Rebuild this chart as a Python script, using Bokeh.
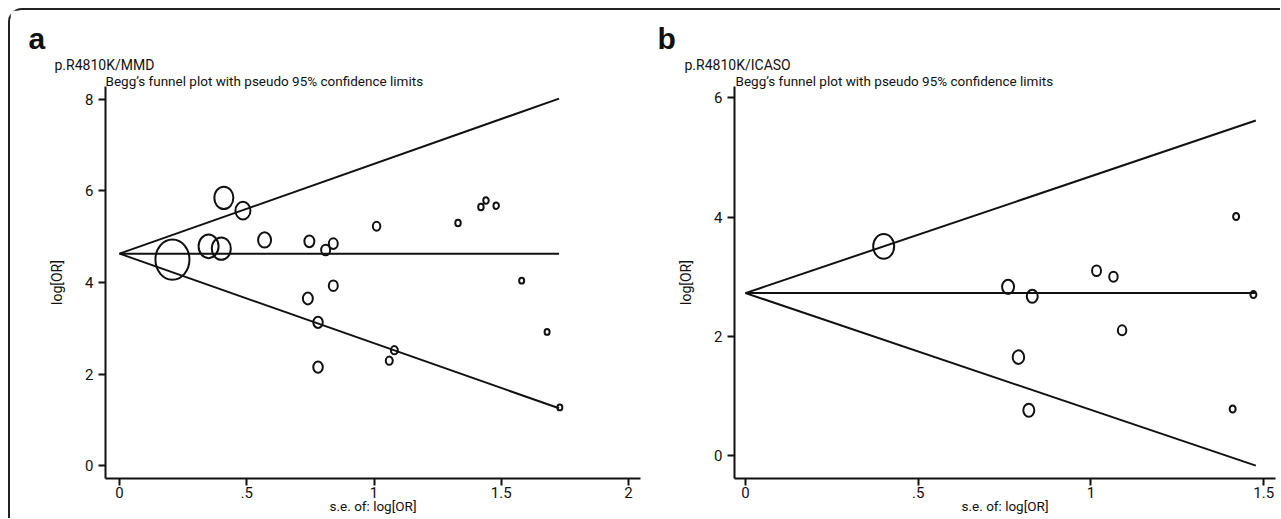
from bokeh.plotting import figure
from bokeh.models import Range1d, FixedTicker, Title
from bokeh.layouts import row
from bokeh.embed import file_html
from bokeh.resources import INLINE

# ---------------- data: panel a (p.R4810K/MMD) ----------------
a_se = [0.208, 0.35, 0.40, 0.41, 0.485, 0.57, 0.74, 0.746, 0.78, 0.78, 0.81, 0.84,
        0.84, 1.01, 1.06, 1.08, 1.33, 1.42, 1.44, 1.48, 1.58, 1.68, 1.73]
a_logor = [4.50, 4.79, 4.74, 5.85, 5.57, 4.93, 3.65, 4.90, 3.13, 2.15, 4.71, 4.85,
           3.93, 5.23, 2.29, 2.52, 5.30, 5.65, 5.79, 5.68, 4.04, 2.92, 1.27]
a_weight = [34, 20, 19, 19, 15, 13, 10, 10, 9.5, 9.5, 9, 9,
            9, 7.5, 7, 7, 5.5, 5.5, 5.5, 5.5, 5, 5, 5]
a_funnel_se = [0, 1.727]
a_upper = [4.63, 8.02]
a_center = [4.63, 4.63]
a_lower = [4.63, 1.25]

# ---------------- data: panel b (p.R4810K/ICASO) ----------------
b_se = [0.40, 0.76, 0.79, 0.82, 0.83, 1.016, 1.065, 1.09, 1.41, 1.42, 1.47]
b_logor = [3.51, 2.83, 1.65, 0.76, 2.67, 3.10, 3.00, 2.10, 0.78, 4.01, 2.70]
b_weight = [21, 12, 11.5, 11, 11, 9, 8.5, 8.5, 6, 6, 6]
b_funnel_se = [0, 1.477]
b_upper = [2.725, 5.62]
b_center = [2.725, 2.725]
b_lower = [2.725, -0.17]

x_ticks_a = [0, 0.5, 1, 1.5, 2]
x_ticks_b = [0, 0.5, 1, 1.5]
x_tick_labels = {0: "0", 0.5: ".5", 1: "1", 1.5: "1.5", 2: "2"}
y_ticks_a = [0, 2, 4, 6, 8]
y_ticks_b = [0, 2, 4, 6]

FONT = "Roboto"
BOLD = "Liberation Sans"
INK = "#111111"


def make_panel(width, mbl, mbr, xr, yr, xticks, yticks, se, lor, wt,
               fse, up, ce, lo, letter, subtitle, offsets):
    p = figure(width=width, height=508, output_backend="svg", toolbar_location=None,
               x_range=Range1d(*xr), y_range=Range1d(*yr),
               min_border_left=mbl, min_border_right=mbr,
               min_border_top=76, min_border_bottom=40)
    p.xgrid.visible = False
    p.ygrid.visible = False
    p.outline_line_color = None
    p.background_fill_color = "white"
    p.border_fill_color = "white"

    for ax in (p.xaxis[0], p.yaxis[0]):
        ax.axis_line_width = 2
        ax.axis_line_color = INK
        ax.major_tick_line_width = 2
        ax.major_tick_line_color = INK
        ax.major_tick_out = 7
        ax.major_tick_in = 0
        ax.minor_tick_line_color = None
        ax.major_label_text_font = FONT
        ax.major_label_text_font_size = "15px"
        ax.major_label_text_color = INK
        ax.axis_label_text_font = FONT
        ax.axis_label_text_font_style = "normal"
        ax.axis_label_text_color = INK
    p.xaxis.ticker = FixedTicker(ticks=xticks)
    p.xaxis.major_label_overrides = {k: v for k, v in x_tick_labels.items() if k in xticks}
    p.xaxis.major_label_standoff = 1
    p.xaxis.axis_label = "s.e. of: log[OR]"
    p.xaxis.axis_label_text_font_size = "13.5px"
    p.xaxis.axis_label_standoff = -3
    p.yaxis.ticker = FixedTicker(ticks=yticks)
    p.yaxis.major_label_overrides = {t: str(t) for t in yticks}
    p.yaxis.major_label_standoff = 5
    p.yaxis.axis_label = "log[OR]"
    p.yaxis.axis_label_text_font_size = "14px"
    p.yaxis.axis_label_standoff = 17

    # funnel (pseudo 95% confidence limits and pooled estimate)
    for ys in (up, ce, lo):
        p.line(fse, ys, line_color=INK, line_width=2)

    # studies
    p.ellipse(x=se, y=lor, width=wt, height=[w * 1.18 for w in wt],
              width_units="screen", height_units="screen",
              fill_color=None, line_color=INK, line_width=2)

    o_letter, o_sub, o_begg = offsets
    # titles stacked upward from the frame
    p.add_layout(Title(text="Begg\u2019s funnel plot with pseudo 95% confidence limits",
                       align="left", offset=o_begg, standoff=-4,
                       text_font=FONT, text_font_style="normal",
                       text_font_size="13.5px", text_color=INK), "above")
    p.add_layout(Title(text=subtitle, align="left", offset=o_sub, standoff=0,
                       text_font=FONT, text_font_style="normal",
                       text_font_size="14px", text_color=INK), "above")
    p.add_layout(Title(text=letter, align="left", offset=o_letter, standoff=0,
                       text_font=BOLD, text_font_style="bold",
                       text_font_size="30px", text_color=INK), "above")
    return p


pa = make_panel(645, 95, 15, (-0.055, 2.047), (-0.284, 8.284), x_ticks_a, y_ticks_a,
                a_se, a_logor, a_weight, a_funnel_se, a_upper, a_center, a_lower,
                "a", "p.R4810K/MMD", (-77, -51, 0))

pb = make_panel(625, 79, 5, (-0.0318, 1.534), (-0.386, 6.191), x_ticks_b, y_ticks_b,
                b_se, b_logor, b_weight, b_funnel_se, b_upper, b_center, b_lower,
                "b", "p.R4810K/ICASO", (-77, -50, 1))

layout = row(pa, pb, margin=(8, 0, 0, 8), styles={
    "border-top": "2px solid #222222",
    "border-left": "2px solid #222222",
    "border-top-left-radius": "14px",
})

open("out.html", "w").write(file_html(layout, INLINE))
